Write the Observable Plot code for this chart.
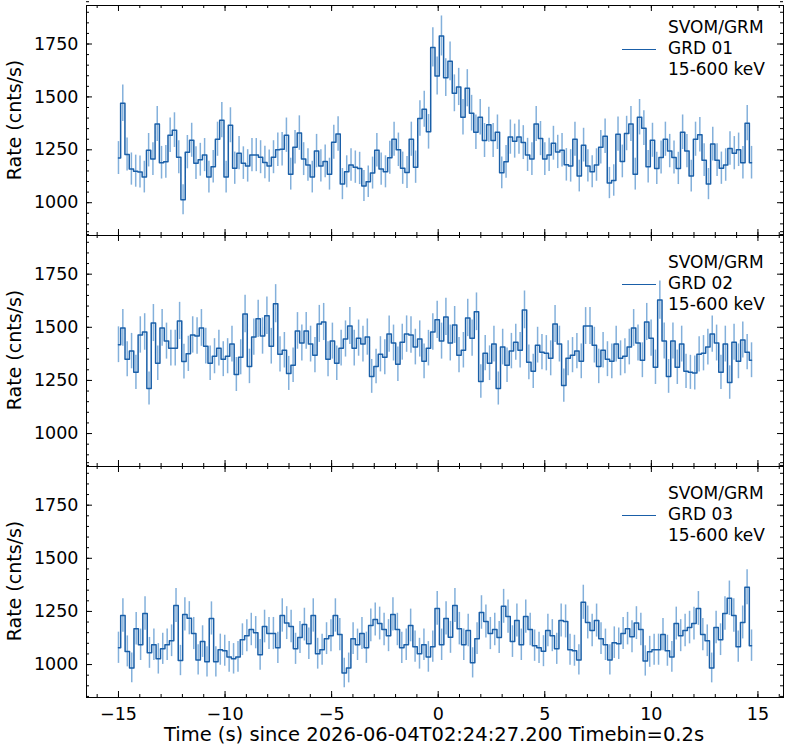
<!DOCTYPE html>
<html><head><meta charset="utf-8">
<script src="https://cdn.jsdelivr.net/npm/d3@7"></script>
<script src="https://cdn.jsdelivr.net/npm/@observablehq/plot@0.6"></script>
<style>
body{margin:0;background:#fff;font-family:"DejaVu Sans",sans-serif;}
#wrap{position:relative;width:787px;height:751px;}
#wrap svg{display:block;}
.leg{position:absolute;left:668px;font-size:17px;line-height:21px;color:#000;}
.legline{position:absolute;left:622px;width:34px;border-top:1.6px solid #1a5fa8;}
.ylab{position:absolute;left:14px;font-size:19px;transform:translate(-50%,-50%) rotate(-90deg);white-space:nowrap;}
.xlab{position:absolute;left:0;width:868px;text-align:center;top:723px;font-size:19.5px;}
</style></head><body>
<div id="wrap"></div>
<script>
const tStart = -15;
const tEnd = 14.7;
const grd01 = [1211,1470,1228,1159,1149,1145,1121,1248,1206,1372,1189,1193,1319,1343,1215,1014,1239,1295,1187,1203,
1225,1121,1170,1300,1390,1121,1366,1163,1234,1187,1174,1225,1225,1215,1190,1173,1215,1250,1253,1319,
1135,1262,1329,1206,1178,1121,1244,1174,1195,1135,1286,1325,1088,1146,1178,1168,1162,1079,1099,1140,
1248,1159,1146,1212,1300,1250,1163,1143,1300,1168,1398,1442,1335,1734,1599,
1788,1591,1668,1517,1547,1404,1541,1423,1333,1404,1294,1368,1294,1333,1141,1193,1310,1291,1310,1284,
1226,1206,1372,1303,1206,1226,1281,1240,1248,1179,1174,1300,1126,1272,1174,1146,1178,1262,1314,1093,
1105,1324,1195,1327,1372,1135,1404,1352,1170,1295,1162,1214,1300,1244,1214,1162,1333,1244,1126,1300,
1321,1201,1088,1277,1201,1163,1178,1256,1234,1250,1189,1376,1189];
const grd02 = [1418,1497,1350,1388,1288,1464,1478,1212,1520,1331,1497,1435,1402,1402,1530,1339,1375,1464,1459,1497,
1411,1331,1364,1402,1350,1364,1421,1278,1359,1563,1316,1454,1540,1459,1554,1411,1611,1373,1392,1283,
1321,1483,1426,1483,1421,1369,1516,1525,1350,1435,1331,1402,1445,1506,1402,1449,1421,1454,1269,1316,
1373,1359,1468,1426,1326,1430,1468,1464,1407,1445,1340,1402,1478,1535,1435,
1549,1426,1511,1369,1392,1544,1449,1573,1245,1378,1331,1421,1212,1407,1321,1388,1430,1392,1582,1335,
1293,1416,1383,1378,1354,1516,1421,1226,1354,1369,1388,1340,1506,1506,1416,1316,1392,1350,1340,1421,
1354,1364,1407,1497,1426,1345,1525,1449,1312,1628,1435,1269,1435,1312,1421,1293,1288,1285,1373,1378,
1407,1468,1426,1288,1421,1240,1430,1340,1440,1383,1345];
const grd03 = [1079,1231,1062,984,1169,1093,1240,1055,1093,1027,1074,1093,1112,1278,1019,1236,1218,1146,1022,1108,
1013,1217,1013,1070,1065,1036,1027,1036,1117,1136,1165,1150,1046,1179,1146,1146,1079,1231,1195,1179,
1074,1127,1188,1098,1231,1051,1070,1122,1136,1231,1141,960,984,1122,1093,1146,1079,1184,1212,1193,
1165,1136,1236,1165,1079,1093,1184,1084,1051,1093,1036,1084,1264,1093,1217,
1128,1278,1169,1093,1160,1008,1122,1245,1203,1146,1165,1127,1274,1226,1108,1207,1093,1226,1165,1089,
1079,1063,1160,1136,1074,1207,1203,1070,1065,1022,1293,1198,1160,1207,1122,1093,1022,1103,1098,1146,
1169,1131,1195,1165,1017,1060,1070,1070,1141,1065,1036,1193,1136,1160,1174,1193,1264,1141,1112,984,
1174,1117,1240,1312,1231,1084,1198,1364,1089];
const panels = [{name:"GRD 01", values:grd01},{name:"GRD 02", values:grd02},{name:"GRD 03", values:grd03}];
const xMajor = [-15,-10,-5,0,5,10,15];
const xMinor = d3.range(-16,17,1);
const yMajor = [1000,1250,1500,1750];
const yMinor = d3.range(850,1951,50);

const xDom=[-16.5,16.2], yDom=[845,1932];
const W=787, ML=86, MR=4;
const pxX=(xDom[1]-xDom[0])/(W-ML-MR);
const wrap=document.getElementById("wrap");
const layout=[{h:235,mt:5,mb:0},{h:231,mt:0,mb:0},{h:285,mt:0,mb:54}];

panels.forEach((p,i)=>{
  const L=layout[i];
  const pxY=(yDom[1]-yDom[0])/(L.h-L.mt-L.mb);
  const n=p.values.length, step=(tEnd-tStart)/(n-1);
  const data=p.values.map((v,j)=>({t:tStart+j*step,v,e:Math.sqrt(v*0.2)/0.2}));
  const last=i===2;
  const marks=[
    Plot.ruleX(data,{x:"t",y1:d=>d.v-d.e,y2:d=>d.v+d.e,stroke:"#4f8fcc",strokeOpacity:0.7,strokeWidth:1.5}),
    Plot.line(data,{x:"t",y:"v",curve:"step",stroke:"#1a5fa8",strokeWidth:1.5}),
    Plot.ruleX(xMajor,{x:d=>d,y1:yDom[0],y2:yDom[0]+6*pxY,stroke:"#000"}),
    Plot.ruleX(xMajor,{x:d=>d,y1:yDom[1],y2:yDom[1]-6*pxY,stroke:"#000"}),
    Plot.ruleX(xMinor,{x:d=>d,y1:yDom[0],y2:yDom[0]+3*pxY,stroke:"#000"}),
    Plot.ruleX(xMinor,{x:d=>d,y1:yDom[1],y2:yDom[1]-3*pxY,stroke:"#000"}),
    Plot.ruleY(yMajor,{y:d=>d,x1:xDom[0],x2:xDom[0]+6*pxX,stroke:"#000"}),
    Plot.ruleY(yMajor,{y:d=>d,x1:xDom[1],x2:xDom[1]-6*pxX,stroke:"#000"}),
    Plot.ruleY(yMinor,{y:d=>d,x1:xDom[0],x2:xDom[0]+3*pxX,stroke:"#000"}),
    Plot.ruleY(yMinor,{y:d=>d,x1:xDom[1],x2:xDom[1]-3*pxX,stroke:"#000"}),
    Plot.axisY(yMajor,{anchor:"left",tickSize:0,tickPadding:8,label:null,fontSize:17.5,tickFormat:d=>String(d)}),
    last?Plot.axisX(xMajor,{anchor:"bottom",tickSize:0,tickPadding:10,label:null,fontSize:17.5}):Plot.axisX({ticks:[],label:null,tickSize:0}),
    Plot.frame({stroke:"#000"})
  ];
  const svg=Plot.plot({width:W,height:L.h,marginLeft:ML,marginRight:MR,marginTop:L.mt,marginBottom:L.mb,
    x:{domain:xDom},y:{domain:yDom},style:{fontFamily:"DejaVu Sans",fontSize:"17.5px",color:"#000",overflow:"visible"},marks});
  wrap.appendChild(svg);
  const top=[0,235,466][i];
  const leg=document.createElement("div");leg.className="leg";leg.style.top=(top+17)+"px";
  leg.innerHTML="SVOM/GRM<br>"+p.name+"<br>15-600 keV";wrap.appendChild(leg);
  const ln=document.createElement("div");ln.className="legline";ln.style.top=(top+49)+"px";wrap.appendChild(ln);
  const yl=document.createElement("div");yl.className="ylab";yl.style.top=(top+(i===0?120:115))+"px";yl.textContent="Rate (cnts/s)";wrap.appendChild(yl);
});
const xl=document.createElement("div");xl.className="xlab";xl.textContent="Time (s) since 2026-06-04T02:24:27.200 Timebin=0.2s";wrap.appendChild(xl);
</script></body></html>
